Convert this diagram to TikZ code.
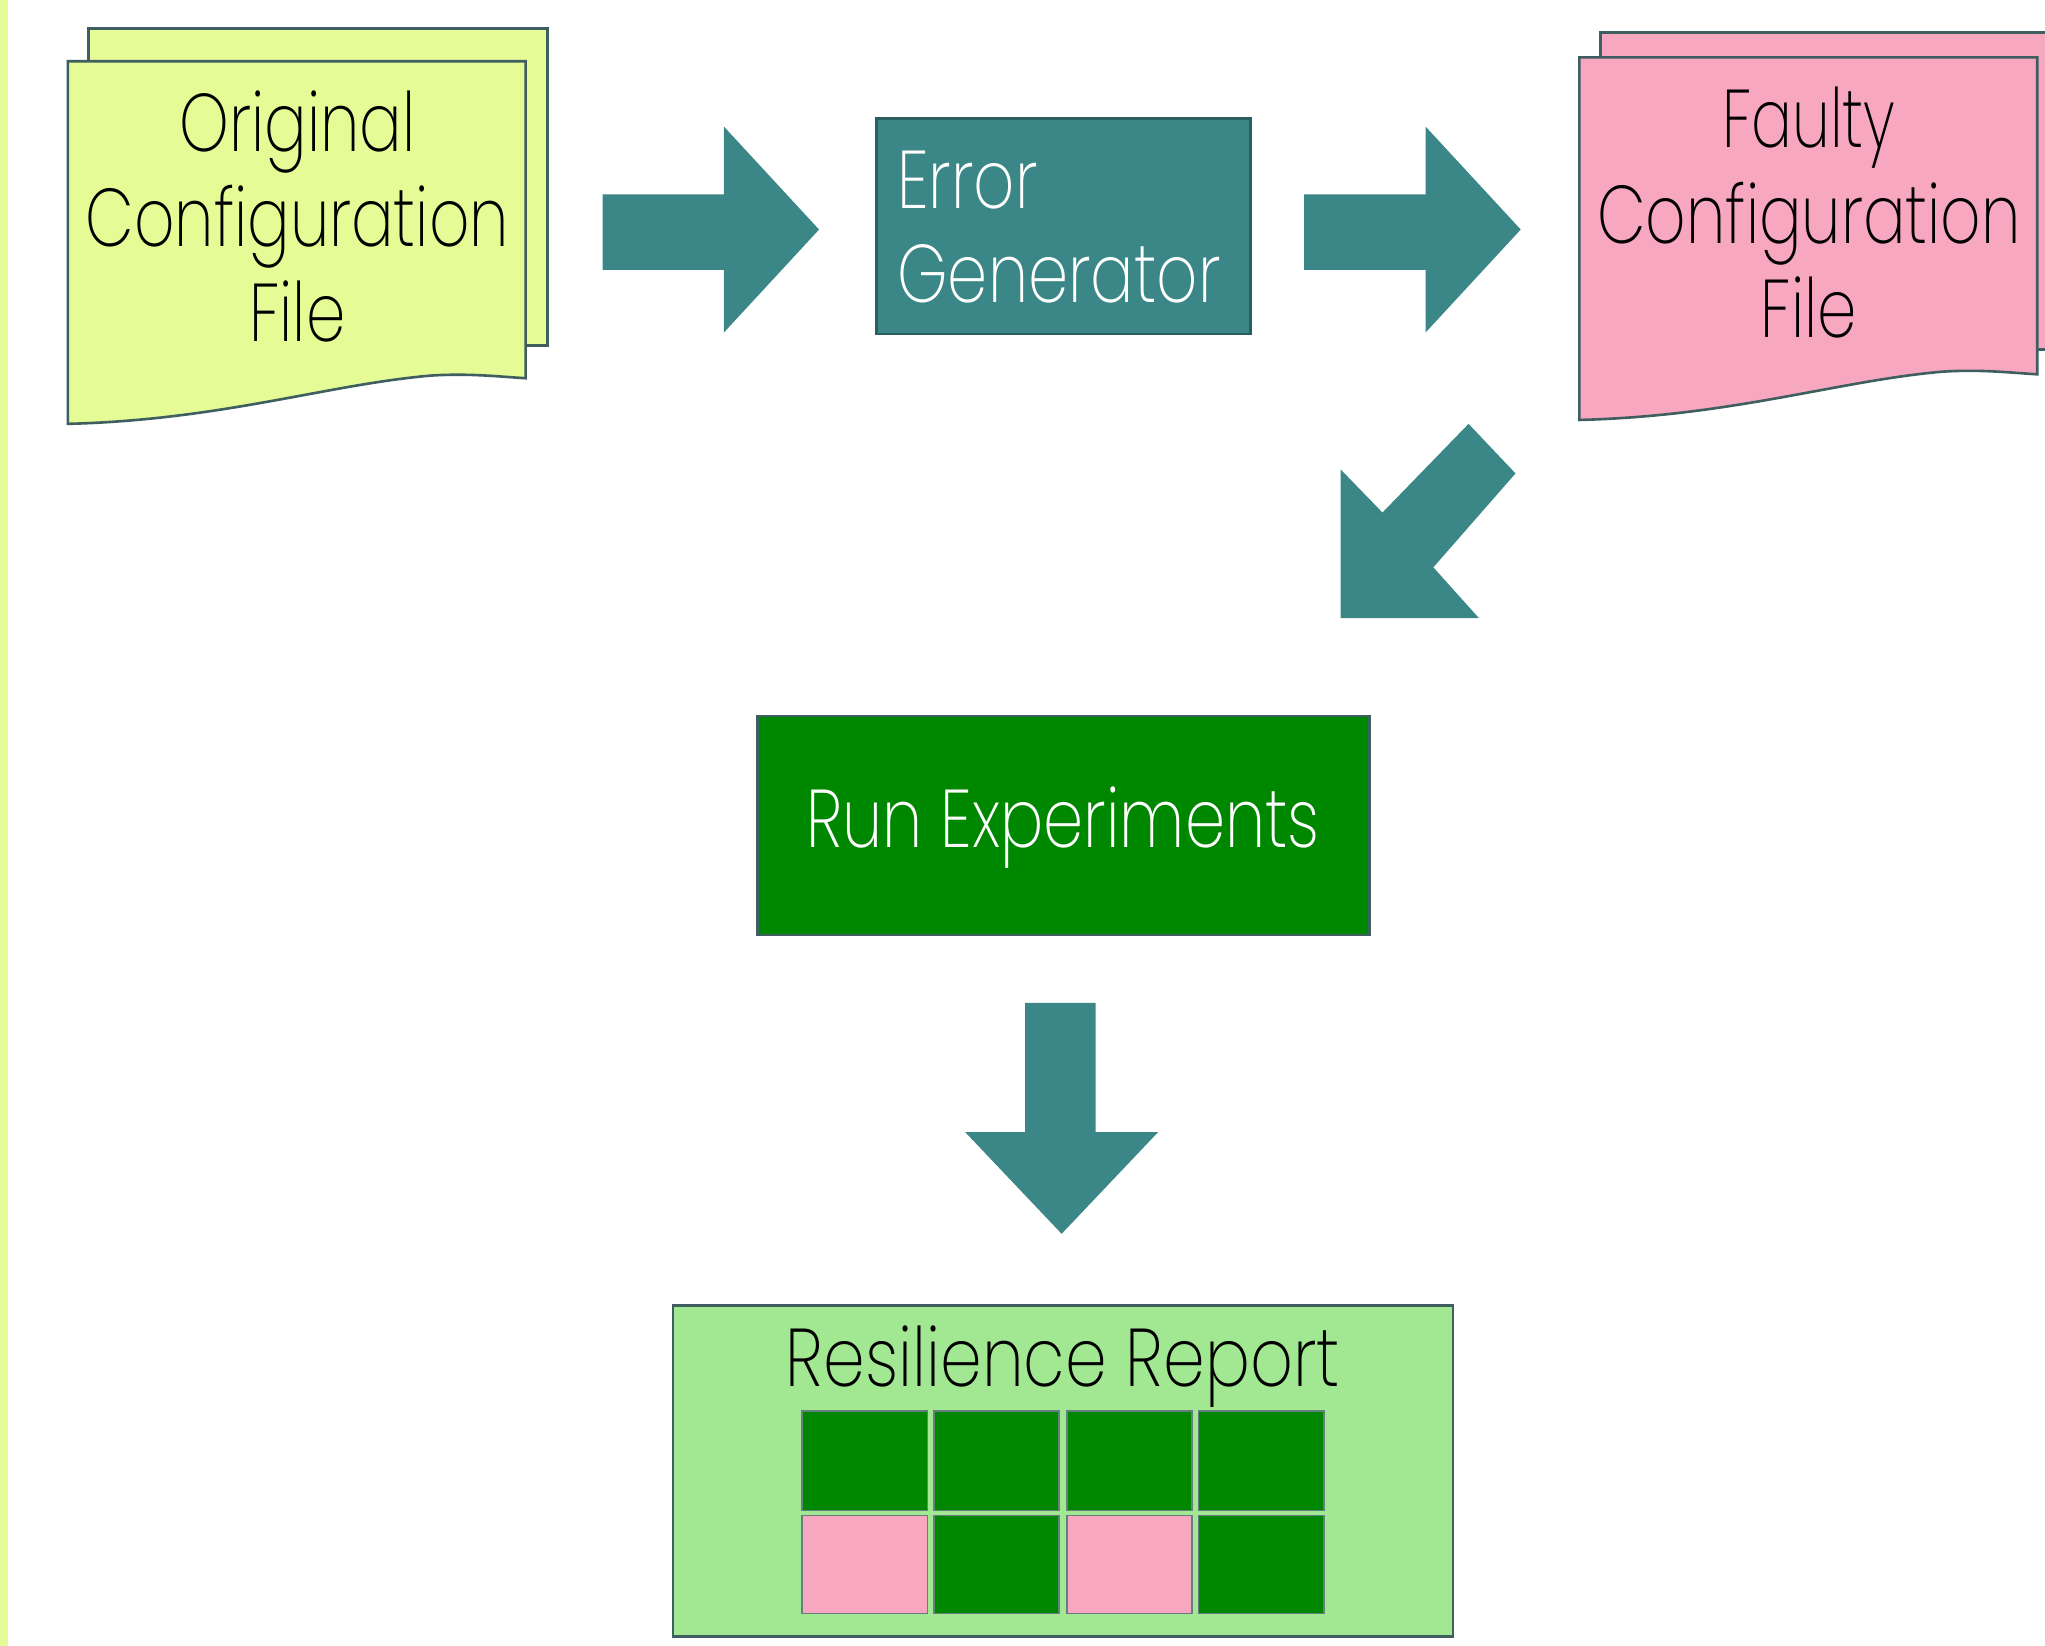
\documentclass[tikz,border=0pt]{standalone}
\usepackage{fontspec}
\setmainfont{Poppins ExtraLight}[FakeStretch=0.77]
\definecolor{docyellow}{HTML}{E5FB95}
\definecolor{docpink}{HTML}{F8A7C0}
\definecolor{tealc}{HTML}{3B8686}
\definecolor{tealedge}{HTML}{2B5E5E}
\definecolor{rungreen}{HTML}{008700}
\definecolor{lightgreen}{HTML}{A2E893}
\definecolor{edgec}{HTML}{3E5E60}
\tikzset{
  docshape/.style={draw=edgec, line width=1pt},
  boxshape/.style={draw=edgec, line width=1pt},
  blockarrow/.style={fill=tealc, draw=none},
  cell/.style={draw=edgec!80, line width=0.6pt},
  txt/.style={inner sep=0pt, outer sep=0pt, anchor=base, font=\fontsize{31.4pt}{36pt}\selectfont},
  wtxt/.style={txt, text=white},
}
\begin{document}
\begin{tikzpicture}[x=0.5pt, y=-0.5pt]
\useasboundingbox (0,0) rectangle (1568,1262);
\fill[white] (0,0) rectangle (1568,1262);
\clip (0,0) rectangle (1568,1262);
% left strip
\fill[docyellow] (0,0) rectangle (6,1262);

% Original configuration file
\draw[docshape, fill=docyellow] (68,22) rectangle (420,265);
\draw[docshape, fill=docyellow] (52,47) -- (403,47) -- (403,290)
   .. controls (385,289) and (360,286) .. (330,288)
   .. controls (250,295) and (170,322) .. (52,325) -- cycle;
\node[txt] (o1) at (228,116) {Original};
\node[txt] (o2) at (228,189) {Configuration};
\node[txt] (o3) at (228,262) {File};

% arrow 1
\fill[blockarrow] (462,149) -- (555,149) -- (555,97) -- (628,176) -- (555,255) -- (555,207) -- (462,207) -- cycle;

% Error generator
\draw[boxshape, draw=tealedge, fill=tealc] (672,91) rectangle (959,256);
\node[wtxt, anchor=base west] (e1) at (688,160) {\scalebox{1.02}[1]{Error}};
\node[wtxt, anchor=base west] (e2) at (688,232) {\scalebox{1.02}[1]{Generator}};

% arrow 2
\fill[blockarrow] (1000,149) -- (1093,149) -- (1093,97) -- (1166,176) -- (1093,255) -- (1093,207) -- (1000,207) -- cycle;

% Faulty configuration file
\draw[docshape, fill=docpink] (1227,25) rectangle (1590,268);
\draw[docshape, fill=docpink] (1211,44) -- (1562,44) -- (1562,287)
   .. controls (1544,286) and (1519,283) .. (1489,285)
   .. controls (1409,292) and (1329,319) .. (1211,322) -- cycle;
\node[txt] (f1) at (1387,113) {\scalebox{0.96}[1]{Faulty}};
\node[txt] (f2) at (1387,187) {Configuration};
\node[txt] (f3) at (1387,259) {File};

% diagonal arrow
\fill[blockarrow] (1126,325) -- (1162,363) -- (1099,435) -- (1134,474) -- (1028,474) -- (1028,360) -- (1060,393) -- cycle;

% Run experiments
\draw[boxshape, fill=rungreen] (581,549) rectangle (1050,717);
\node[wtxt] (r1) at (815,650) {\scalebox{1.02}[1]{Run Experiments}};

% down arrow
\fill[blockarrow] (786,769) -- (840,769) -- (840,868) -- (888,868) -- (814,946) -- (740,868) -- (786,868) -- cycle;

% Resilience report
\draw[boxshape, fill=lightgreen] (516,1001) rectangle (1114,1255);
\node[txt] (rr) at (815,1063) {\scalebox{1.06}[1]{Resilience Report}};
\foreach \x/\c in {615/rungreen, 716/rungreen, 818/rungreen, 919/rungreen}
  \draw[cell, fill=\c] (\x,1082) rectangle ++(96,76);
\foreach \x/\c in {615/docpink, 716/rungreen, 818/docpink, 919/rungreen}
  \draw[cell, fill=\c] (\x,1162) rectangle ++(96,75);
\end{tikzpicture}
\end{document}
